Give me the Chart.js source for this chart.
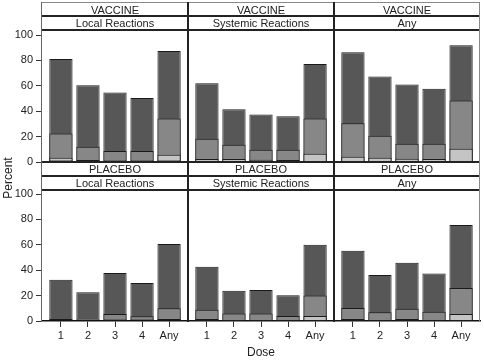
<!DOCTYPE html>
<html><head><meta charset="utf-8">
<script src="https://cdn.jsdelivr.net/npm/chart.js@4/dist/chart.umd.min.js"></script>
<style>
html,body{margin:0;padding:0;background:#fff;}
#wrap{position:relative;width:484px;height:360px;overflow:hidden;font-family:"Liberation Sans",Arial,sans-serif;color:#222;}
canvas{position:absolute;left:0;top:0;}
.ln{position:absolute;background:#222;}
.lab{position:absolute;text-align:center;font-size:11px;white-space:nowrap;}
#ylab{position:absolute;left:8px;top:178px;font-size:12px;transform:translate(-50%,-50%) rotate(-90deg);white-space:nowrap;}
</style>
</head><body>
<div id="wrap"></div>
<script>
// ---- data ----
const doses = ['1', '2', '3', '4', 'Any'];
const groups = ['VACCINE', 'PLACEBO'];
const reactionTypes = ['Local Reactions', 'Systemic Reactions', 'Any'];

const vaccineLocalAny      = [81.2, 60.5, 54.7, 50.3, 87.4];
const vaccineLocalModSev   = [22.5, 12.0, 8.6, 8.6, 34.3];
const vaccineLocalSevere   = [3.4, 1.6, 0.8, 0.8, 5.8];

const vaccineSystemicAny    = [62.0, 41.6, 37.4, 36.1, 77.2];
const vaccineSystemicModSev = [18.3, 13.6, 9.7, 9.7, 34.3];
const vaccineSystemicSevere = [2.4, 2.4, 1.8, 1.6, 6.5];

const vaccineAnyAny      = [86.4, 67.3, 61.0, 57.6, 91.9];
const vaccineAnyModSev   = [30.6, 20.7, 14.4, 14.4, 48.4];
const vaccineAnySevere   = [4.2, 3.4, 2.6, 2.4, 10.5];

const placeboLocalAny    = [32.5, 22.6, 37.8, 29.9, 60.6];
const placeboLocalModSev = [1.6, 1.0, 5.5, 3.7, 10.0];
const placeboLocalSevere = [0.5, 0.3, 0.8, 0.5, 1.6];

const placeboSystemicAny    = [42.8, 23.9, 24.4, 20.2, 60.1];
const placeboSystemicModSev = [8.9, 6.0, 6.0, 3.9, 20.0];
const placeboSystemicSevere = [1.6, 0.8, 0.8, 0.8, 3.9];

const placeboAnyAny      = [55.4, 36.2, 45.9, 37.5, 75.6];
const placeboAnyModSev   = [10.2, 6.8, 9.7, 7.3, 26.0];
const placeboAnySevere   = [1.6, 0.8, 1.6, 0.5, 5.5];

const yTicks = [0, 20, 40, 60, 80, 100];

const panels = [
  [[vaccineLocalAny, vaccineLocalModSev, vaccineLocalSevere],
   [vaccineSystemicAny, vaccineSystemicModSev, vaccineSystemicSevere],
   [vaccineAnyAny, vaccineAnyModSev, vaccineAnySevere]],
  [[placeboLocalAny, placeboLocalModSev, placeboLocalSevere],
   [placeboSystemicAny, placeboSystemicModSev, placeboSystemicSevere],
   [placeboAnyAny, placeboAnyModSev, placeboAnySevere]]
];

// ---- layout ----
const W = 484, H = 360;
const colX = [42, 188, 334, 480];
const rowTop = [35, 194];     // y of 100
const rowBot = [162, 321];    // y of 0
const FONT = '"Liberation Sans", Arial, sans-serif';
const wrap = document.getElementById('wrap');

function pts(arr) { return arr.map((v, i) => ({x: i, y: v})); }

for (let r = 0; r < 2; r++) {
  for (let c = 0; c < 3; c++) {
    const cv = document.createElement('canvas');
    cv.width = W; cv.height = H;
    wrap.appendChild(cv);
    const [anyG, modG, sevG] = panels[r][c];
    const common = {borderColor: '#1a1a1a', borderWidth: 1, borderSkipped: false,
      grouped: false, categoryPercentage: 1, barPercentage: 0.86};
    const showX = r === 1, showY = c === 0;
    new Chart(cv, {
      type: 'bar',
      data: {
        datasets: [
          Object.assign({label: 'Severe', data: pts(sevG), backgroundColor: '#c4c4c4'}, common),
          Object.assign({label: 'Moderate or severe', data: pts(modG), backgroundColor: '#878787'}, common),
          Object.assign({label: 'Any', data: pts(anyG), backgroundColor: '#575757'}, common)
        ]
      },
      options: {
        responsive: false, animation: false, devicePixelRatio: 1,
        layout: {padding: {
          left: showY ? 0 : colX[c],
          right: W - colX[c + 1],
          top: rowTop[r],
          bottom: showX ? 0 : H - rowBot[r]
        }},
        plugins: {legend: {display: false}, tooltip: {enabled: false}},
        scales: {
          x: {
            type: 'linear', min: -0.7, max: 4.7, offset: false,
            display: showX,
            afterBuildTicks: s => { s.ticks = doses.map((d, i) => ({value: i})); },
            afterFit: s => { if (showX) s.height = 39; },
            ticks: {callback: v => doses[v], font: {size: 11, family: FONT}, color: '#222',
              padding: 2, autoSkip: false, maxRotation: 0},
            grid: {offset: false, drawOnChartArea: false, drawTicks: true, tickLength: 6, color: '#333'},
            border: {display: true, color: '#111', width: 1.5},
            title: {display: r === 1 && c === 1, text: 'Dose', font: {size: 12, family: FONT},
              color: '#222', padding: {top: 0, bottom: 0}}
          },
          y: {
            min: 0, max: 100,
            display: showY,
            afterBuildTicks: s => { s.ticks = yTicks.map(v => ({value: v})); },
            afterFit: s => { if (showY) s.width = 42; },
            ticks: {font: {size: 11, family: FONT}, color: '#222', padding: 3},
            grid: {drawOnChartArea: false, drawTicks: true, tickLength: 6, color: '#333'},
            border: {display: false}
          }
        }
      }
    });
  }
}

// ---- frame lines & strip labels ----
function line(x, y, w, h, col) {
  const d = document.createElement('div');
  d.className = 'ln';
  d.style.left = x + 'px'; d.style.top = y + 'px';
  d.style.width = w + 'px'; d.style.height = h + 'px';
  if (col) d.style.background = col;
  wrap.appendChild(d);
}
line(42, 2, 438, 1, '#888');
[15, 29, 161, 175, 189].forEach(y => line(42, y, 438, 2));
line(41, 2, 1, 320, '#666');
line(187, 2, 2, 320);
line(333, 2, 2, 320);
line(479, 2, 1, 320, '#888');

function label(text, x0, x1, yc) {
  const d = document.createElement('div');
  d.className = 'lab';
  d.textContent = text;
  d.style.left = x0 + 'px'; d.style.width = (x1 - x0) + 'px';
  d.style.top = (yc - 7) + 'px'; d.style.height = '14px'; d.style.lineHeight = '14px';
  wrap.appendChild(d);
}
const stripY = [[9.5, 23], [168.5, 182.5]];
for (let r = 0; r < 2; r++) {
  for (let c = 0; c < 3; c++) {
    label(groups[r], colX[c], colX[c + 1], stripY[r][0]);
    label(reactionTypes[c], colX[c], colX[c + 1], stripY[r][1]);
  }
}
const yl = document.createElement('div');
yl.id = 'ylab'; yl.textContent = 'Percent';
wrap.appendChild(yl);
</script>
</body></html>
